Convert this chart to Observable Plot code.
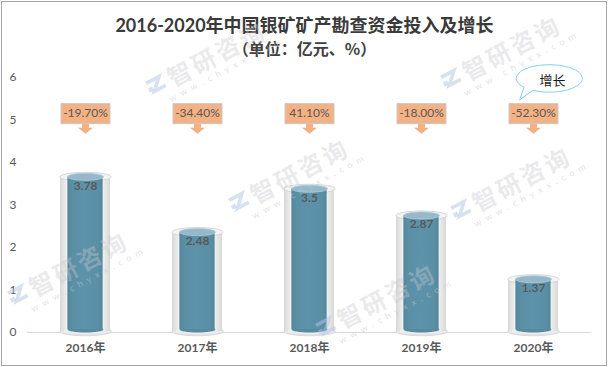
<!DOCTYPE html>
<html>
<head>
<meta charset="utf-8">
<script src="https://cdn.jsdelivr.net/npm/d3@7"></script>
<script src="https://cdn.jsdelivr.net/npm/@observablehq/plot@0.6"></script>
<style>
  html, body { margin: 0; padding: 0; background: #fff; }
  #wrap { position: relative; width: 609px; height: 367px; overflow: hidden; background: #fff;
          font-family: Lato, "Noto Sans CJK SC", sans-serif; }
  #frame { position: absolute; left: 1px; top: 1px; width: 606px; height: 365px;
           border: 1px solid #a6a6a6; box-sizing: border-box; pointer-events: none; z-index: 5; }
  #title { position: absolute; left: 0; width: 609px; top: 13px; text-align: center;
           font-size: 18px; line-height: 24px; font-weight: bold; color: #3a3a3a; z-index: 2; }
  #subtitle { position: absolute; left: 0; width: 609px; top: 37px; text-align: center;
              font-family: "Noto Sans CJK SC", sans-serif;
              font-size: 16px; line-height: 22px; font-weight: bold; color: #404040; z-index: 2; }
  #chart { position: absolute; left: 0; top: 0; z-index: 1; }
  #chart g[aria-label="x-axis tick label"] text { font-weight: bold; }
  #chart g[aria-label="note"] text { letter-spacing: 4px; }
  .wm { position: absolute; transform-origin: 0 50%; transform: rotate(-28deg);
        white-space: nowrap; pointer-events: none; z-index: 4; }
  .wm .t { font-family: "Noto Sans CJK SC", sans-serif; font-weight: bold; font-size: 24px;
           color: rgba(200,200,205,0.4); letter-spacing: 3px; vertical-align: middle; }
  .wm .u { display: block; margin-left: 16px; margin-top: -4px; font-family: Lato, sans-serif;
           font-size: 9px; letter-spacing: 5px; color: rgba(200,200,205,0.5); }
  .wm svg { vertical-align: middle; margin-right: 3px; }
</style>
</head>
<body>
<div id="wrap">
  <div id="title">2016-2020年中国银矿矿产勘查资金投入及增长</div>
  <div id="subtitle">（单位：亿元、%）</div>
  <div id="chart"></div>
  <div id="frame"></div>
</div>
<script>
// ---- data ----
const years = ["2016年", "2017年", "2018年", "2019年", "2020年"];
const investment = [3.78, 2.48, 3.5, 2.87, 1.37];
const growth = ["-19.70%", "-34.40%", "41.10%", "-18.00%", "-52.30%"];
const yTicks = [0, 1, 2, 3, 4, 5, 6];
const noteText = "增长";
const noteYear = "2020年";

const data = years.map((year, i) => ({year, value: investment[i], growth: growth[i]}));
const calloutLevel = 5.15;

// ---- custom shapes ----
function ellipse(rx, ry) {
  return {draw(ctx) {
    const k = 0.5523, ox = rx * k, oy = ry * k;
    ctx.moveTo(-rx, 0);
    ctx.bezierCurveTo(-rx, -oy, -ox, -ry, 0, -ry);
    ctx.bezierCurveTo(ox, -ry, rx, -oy, rx, 0);
    ctx.bezierCurveTo(rx, oy, ox, ry, 0, ry);
    ctx.bezierCurveTo(-ox, ry, -rx, oy, -rx, 0);
    ctx.closePath();
  }};
}
const box = {draw(ctx) {
  ctx.moveTo(-24.5, -10); ctx.lineTo(24.5, -10); ctx.lineTo(24.5, 10); ctx.lineTo(-24.5, 10); ctx.closePath();
}};
const arrow = {draw(ctx) {
  ctx.moveTo(-3.5, 9.5); ctx.lineTo(3.5, 9.5); ctx.lineTo(3.5, 14); ctx.lineTo(7.5, 14);
  ctx.lineTo(0, 20); ctx.lineTo(-7.5, 14); ctx.lineTo(-3.5, 14); ctx.closePath();
}};
const bubble = {draw(ctx) {
  const cx = 15.8, cy = -35.2, rx = 33, ry = 13.7;
  const a0 = 120 * Math.PI / 180, a1 = (140 - 360) * Math.PI / 180, n = 80;
  for (let i = 0; i <= n; i++) {
    const a = a0 + (a1 - a0) * i / n;
    const px = cx + rx * Math.cos(a), py = cy + ry * Math.sin(a);
    if (i === 0) ctx.moveTo(px, py); else ctx.lineTo(px, py);
  }
  ctx.lineTo(-13.8, -13.7);
  ctx.closePath();
}};

const chart = Plot.plot({
  width: 609,
  height: 367,
  marginLeft: 27,
  marginRight: 18,
  marginTop: 77,
  marginBottom: 35,
  style: {fontFamily: "Lato, 'Noto Sans CJK SC', sans-serif", fontSize: "12px", color: "#595959", background: "transparent", overflow: "visible"},
  x: {domain: years, padding: 0, label: null},
  y: {domain: [0, 6], label: null},
  marks: [
    Plot.ruleY([0], {stroke: "#d9d9d9", strokeWidth: 1}),
    // glass cylinder
    Plot.dot(data, {x: "year", y: () => 0, symbol: ellipse(25.5, 4), fill: "#ececec", stroke: "#dcdcdc", dy: -1}),
    Plot.barY(data, {x: "year", y: "value", insetLeft: 31, insetRight: 31, insetTop: 5, insetBottom: 1, fill: "url(#glassGrad)"}),
    Plot.dot(data, {x: "year", y: "value", symbol: ellipse(25.5, 4.5), fill: "#f4f4f4", stroke: "#d6d6d6", strokeWidth: 1, dy: 5}),
    // inner bar
    Plot.dot(data, {x: "year", y: () => 0, symbol: ellipse(18, 3), fill: "#578ba1", dy: -3}),
    Plot.barY(data, {x: "year", y: "value", insetLeft: 38.4, insetRight: 38.4, insetTop: 5, insetBottom: 3, fill: "url(#barGrad)"}),
    Plot.dot(data, {x: "year", y: "value", symbol: ellipse(18, 3.5), fill: "#95b9ca", stroke: "#aecbd8", strokeWidth: 0.8, dy: 5}),
    Plot.text(data, {x: "year", y: "value", text: d => String(d.value), dy: 14, fill: "#595959", fontWeight: "bold", fontSize: 12}),
    // growth callouts
    Plot.dot(data, {x: "year", y: () => calloutLevel, symbol: arrow, fill: "#f4b183", stroke: "none"}),
    Plot.dot(data, {x: "year", y: () => calloutLevel, symbol: box, fill: "#f4b183", stroke: "#c8c8c8", strokeWidth: 1}),
    Plot.text(data, {x: "year", y: () => calloutLevel, text: "growth", fill: "#595959", fontSize: 12}),
    // speech bubble note
    Plot.dot([noteYear], {x: d => d, y: () => calloutLevel, symbol: bubble, fill: "#ffffff", stroke: "#7fd0f2", strokeWidth: 1}),
    Plot.text([noteYear], {x: d => d, y: () => calloutLevel, text: () => noteText, dx: 19, dy: -33, fill: "#1a1a1a", fontSize: 13, ariaLabel: "note"}),
    // axes
    Plot.axisY(yTicks, {tickSize: 0, tickPadding: 11, fontSize: 12, label: null}),
    Plot.axisX({tickSize: 0, tickPadding: 11, fontSize: 12, fontWeight: "bold", label: null})
  ]
});

d3.select(chart).insert("defs", ":first-child").html(`
  <linearGradient id="glassGrad" x1="0" x2="1" y1="0" y2="0">
    <stop offset="0" stop-color="#d8d8d8"/>
    <stop offset="0.12" stop-color="#ededed"/>
    <stop offset="0.5" stop-color="#f8f8f8"/>
    <stop offset="0.88" stop-color="#ececec"/>
    <stop offset="1" stop-color="#d8d8d8"/>
  </linearGradient>
  <linearGradient id="barGrad" x1="0" x2="1" y1="0" y2="0">
    <stop offset="0" stop-color="#52869d"/>
    <stop offset="0.12" stop-color="#5a8fa6"/>
    <stop offset="0.5" stop-color="#5d93aa"/>
    <stop offset="0.88" stop-color="#5a8fa6"/>
    <stop offset="1" stop-color="#52869d"/>
  </linearGradient>`);
document.getElementById("chart").appendChild(chart);

// ---- watermarks (decorative overlay, kept inside the frame) ----
const wmPos = [[160, 90], [455, 84], [243, 207], [465, 215], [330, 332], [22, 300]];
const wrap = document.getElementById("wrap");
for (const [x, y] of wmPos) {
  const el = document.createElement("div");
  el.className = "wm";
  el.style.left = (x - 12) + "px";
  el.style.top = (y - 18) + "px";
  el.innerHTML = `<svg width="22" height="22" viewBox="0 0 24 24"><path d="M3 5 H19 L7 17 H21" fill="none" stroke="rgba(175,198,226,0.5)" stroke-width="4"/><rect x="2" y="11" width="5" height="5" fill="rgba(175,198,226,0.5)"/></svg><span class="t">智研咨询</span><span class="u">www.chyxx.com</span>`;
  wrap.appendChild(el);
}
</script>
</body>
</html>
